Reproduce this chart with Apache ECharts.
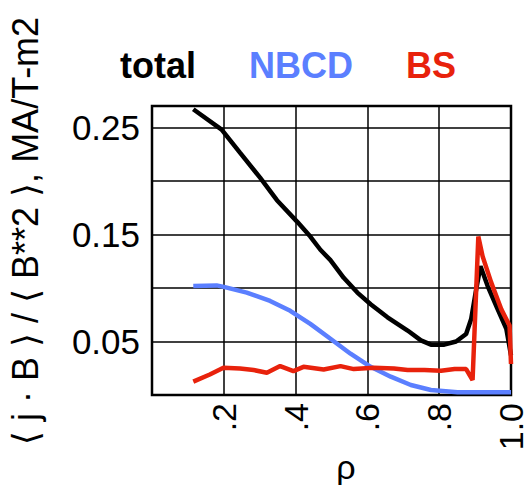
<!DOCTYPE html>
<html>
<head>
<meta charset="utf-8">
<script src="https://cdn.jsdelivr.net/npm/echarts@6/dist/echarts.min.js"></script>
<style>html,body{margin:0;padding:0;background:#fff}#c{width:529px;height:485px}</style>
</head>
<body>
<div id="c"></div>
<script>
var seriesNames = ['total', 'NBCD', 'BS'];
var xTickLabels = {'0.2': '.2', '0.4': '.4', '0.6': '.6', '0.8': '.8', '1': '1.0'};
var yTickLabels = {'0.05': '0.05', '0.15': '0.15', '0.25': '0.25'};

var rhoTotal = [0.115,0.194,0.245,0.301,0.348,0.404,0.441,0.469,0.497,0.534,0.572,0.609,0.656,0.712,0.749,0.777,0.814,0.847,0.875,0.889,0.903,0.915,0.935,0.963,0.987,1.0];
var total    = [0.267,0.248,0.2265,0.203,0.182,0.162,0.148,0.1357,0.126,0.1095,0.0957,0.0848,0.0726,0.0602,0.051,0.047,0.047,0.050,0.057,0.071,0.0987,0.1203,0.1018,0.080,0.0617,0.037];

var rhoNbcd = [0.115,0.180,0.200,0.264,0.329,0.385,0.441,0.497,0.553,0.609,0.665,0.721,0.777,0.851,1.0];
var nbcd    = [0.1018,0.1024,0.101,0.0957,0.0879,0.0787,0.0664,0.0525,0.0386,0.0263,0.0171,0.0093,0.0047,0.0026,0.0025];

var rhoBs = [0.115,0.161,0.199,0.245,0.283,0.320,0.357,0.394,0.422,0.478,0.525,0.562,0.618,0.674,0.712,0.759,0.805,0.843,0.875,0.893,0.909,0.921,0.945,0.973,0.996,1.0];
var bs    = [0.0125,0.0192,0.0254,0.0248,0.0233,0.0208,0.027,0.0223,0.0263,0.0239,0.027,0.0242,0.0254,0.0248,0.0233,0.0233,0.0226,0.0242,0.0242,0.014,0.148,0.1295,0.105,0.080,0.0648,0.029];

function pairs(xs, ys) { return xs.map(function (x, i) { return [x, ys[i]]; }); }

var colors = ['#000000', '#5b7fff', '#e8220c'];
var chart = echarts.init(document.getElementById('c'), null, {renderer: 'svg'});
chart.setOption({
  animation: false,
  backgroundColor: '#fff',
  grid: {left: 152, right: 18, top: 106, bottom: 90, show: true, borderColor: '#000', borderWidth: 2.5, backgroundColor: 'transparent'},
  legend: {
    top: 42, left: 110, icon: 'none', itemWidth: 0, itemHeight: 0, itemGap: 48,
    textStyle: {fontFamily: 'Liberation Sans', fontWeight: 'bold', fontSize: 36},
    data: seriesNames.map(function (n, i) { return {name: n, textStyle: {color: colors[i]}}; })
  },
  xAxis: {
    type: 'value', min: 0, max: 1, interval: 0.2,
    axisLine: {show: false}, axisTick: {show: false},
    splitLine: {show: true, lineStyle: {color: '#000', width: 1.5}},
    axisLabel: {
      rotate: 90, margin: 8, color: '#000', fontFamily: 'Liberation Sans', fontSize: 34,
      formatter: function (v) { return xTickLabels[String(+v.toFixed(2))] || ''; }
    }
  },
  yAxis: {
    type: 'value', min: 0, max: 0.27, interval: 0.05,
    axisLine: {show: false}, axisTick: {show: false},
    splitLine: {show: true, lineStyle: {color: '#000', width: 1.5}},
    axisLabel: {
      margin: 12, color: '#000', fontFamily: 'Liberation Sans', fontSize: 35, padding: [8, 0, 0, 0],
      formatter: function (v) { return yTickLabels[String(+v.toFixed(2))] || ''; }
    }
  },
  graphic: [
    {type: 'text', x: 7, y: 231, rotation: Math.PI / 2, style: {text: '\u27E8 j \u00B7 B \u27E9 / \u27E8 B**2 \u27E9, MA/T-m2', fill: '#000', font: '36px "Liberation Sans", "DejaVu Sans"', textAlign: 'center', textVerticalAlign: 'top'}},
    {type: 'text', x: 346, y: 467, style: {text: '\u03C1', fill: '#000', font: '34px "Liberation Sans"', textAlign: 'center', textVerticalAlign: 'middle'}}
  ],
  series: [
    {name: seriesNames[0], type: 'line', showSymbol: false, data: pairs(rhoTotal, total), lineStyle: {color: colors[0], width: 4.5}, itemStyle: {color: colors[0]}},
    {name: seriesNames[1], type: 'line', showSymbol: false, data: pairs(rhoNbcd, nbcd), lineStyle: {color: colors[1], width: 4.5}, itemStyle: {color: colors[1]}},
    {name: seriesNames[2], type: 'line', showSymbol: false, data: pairs(rhoBs, bs), lineStyle: {color: colors[2], width: 4.5}, itemStyle: {color: colors[2]}}
  ]
});
</script>
</body>
</html>
